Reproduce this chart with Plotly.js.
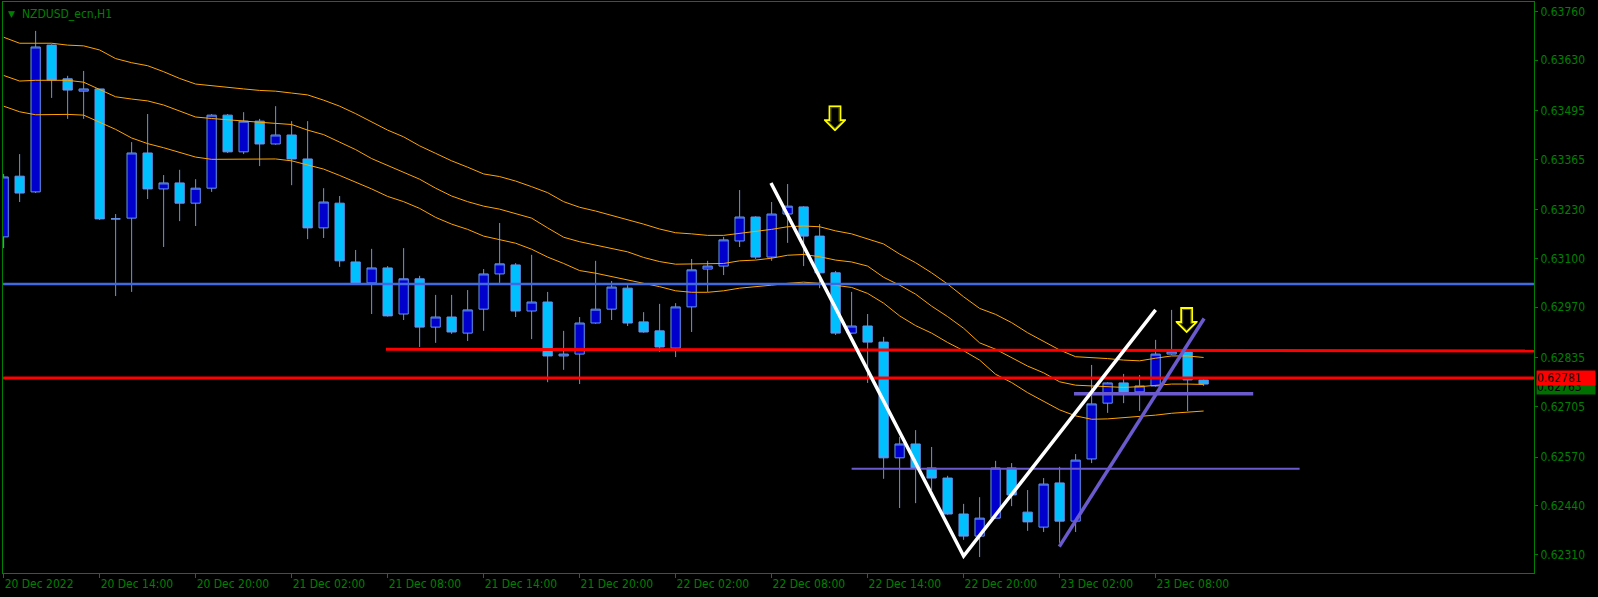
<!DOCTYPE html>
<html>
<head>
<meta charset="utf-8">
<script src="https://cdn.plot.ly/plotly-3.0.1.min.js"></script>
<style>
  html, body { margin: 0; padding: 0; background: #000; }
  #chart { width: 1598px; height: 597px; }
</style>
</head>
<body>
<div id="chart"></div>
<script>
// ---- Candles (NZDUSD_ecn, H1, 20 Dec 2022 08:00 .. 23 Dec 2022 11:00) ----
const openP = [0.63158,0.63320,0.63278,0.63670,0.63580,0.63547,0.63553,0.63206,0.63208,0.63382,
0.63286,0.63302,0.63248,0.63288,0.63483,0.63385,0.63467,0.63406,0.63430,0.63366,
0.63182,0.63248,0.63091,0.63035,0.63075,0.62952,0.63046,0.62917,0.62944,0.62901,
0.62965,0.63059,0.63083,0.62960,0.62984,0.62840,0.62845,0.62928,0.62965,0.63021,
0.62931,0.62907,0.62861,0.62971,0.63072,0.63080,0.63147,0.63211,0.63104,0.63219,
0.63238,0.63160,0.63062,0.62901,0.62920,0.62877,0.62568,0.62605,0.62541,0.62514,
0.62418,0.62359,0.62407,0.62541,0.62423,0.62383,0.62501,0.62399,0.62565,0.62714,
0.62768,0.62744,0.62760,0.62845,0.62851,0.62776];
const highP = [0.63326,0.63379,0.63708,0.63672,0.63588,0.63601,0.63553,0.63219,0.63411,0.63486,
0.63323,0.63337,0.63312,0.63486,0.63486,0.63491,0.63473,0.63507,0.63467,0.63467,
0.63288,0.63267,0.63123,0.63126,0.63080,0.63128,0.63054,0.63003,0.63003,0.63016,
0.63072,0.63195,0.63088,0.63110,0.63011,0.62907,0.62944,0.63094,0.63040,0.63029,
0.62957,0.62979,0.62981,0.63099,0.63094,0.63158,0.63283,0.63213,0.63251,0.63299,
0.63240,0.63192,0.63067,0.63011,0.62952,0.62891,0.62624,0.62642,0.62597,0.62520,
0.62445,0.62463,0.62560,0.62554,0.62482,0.62514,0.62544,0.62578,0.62816,0.62770,
0.62792,0.62789,0.62883,0.62963,0.62853,0.62778];
const lowP = [0.63128,0.63251,0.63275,0.63529,0.63473,0.63473,0.63203,0.63000,0.63011,0.63259,
0.63131,0.63200,0.63187,0.63278,0.63382,0.63379,0.63347,0.63404,0.63296,0.63152,
0.63155,0.63078,0.63033,0.62952,0.62945,0.62936,0.62864,0.62875,0.62899,0.62880,
0.62907,0.63035,0.62944,0.62885,0.62770,0.62803,0.62765,0.62926,0.62936,0.62920,
0.62902,0.62851,0.62837,0.62904,0.63011,0.63056,0.63131,0.63099,0.63094,0.63142,
0.63080,0.63021,0.62896,0.62899,0.62768,0.62512,0.62434,0.62447,0.62482,0.62416,
0.62349,0.62303,0.62405,0.62439,0.62373,0.62370,0.62341,0.62370,0.62554,0.62688,
0.62714,0.62693,0.62758,0.62843,0.62693,0.62760];
const closeP = [0.63318,0.63275,0.63665,0.63577,0.63550,0.63553,0.63206,0.63206,0.63382,0.63286,
0.63302,0.63248,0.63288,0.63483,0.63385,0.63467,0.63406,0.63430,0.63366,0.63182,
0.63251,0.63094,0.63035,0.63075,0.62947,0.63046,0.62917,0.62944,0.62904,0.62963,
0.63059,0.63086,0.62960,0.62984,0.62840,0.62845,0.62928,0.62965,0.63024,0.62928,
0.62904,0.62864,0.62971,0.63070,0.63080,0.63150,0.63211,0.63104,0.63219,0.63240,
0.63160,0.63062,0.62901,0.62920,0.62877,0.62568,0.62605,0.62541,0.62514,0.62418,
0.62359,0.62407,0.62541,0.62469,0.62397,0.62498,0.62399,0.62562,0.62712,0.62768,
0.62744,0.62760,0.62845,0.62851,0.62776,0.62765];

// ---- Orange envelope lines ----
const envUpper = [0.63691,0.63675,0.63675,0.63675,0.63670,0.63668,0.63657,0.63634,0.63623,0.63615,
0.63599,0.63581,0.63566,0.63561,0.63557,0.63553,0.63549,0.63547,0.63542,0.63537,
0.63523,0.63507,0.63487,0.63465,0.63443,0.63425,0.63401,0.63381,0.63361,0.63344,
0.63326,0.63319,0.63307,0.63292,0.63276,0.63252,0.63237,0.63227,0.63216,0.63205,
0.63192,0.63179,0.63169,0.63166,0.63162,0.63162,0.63167,0.63172,0.63178,0.63185,
0.63187,0.63185,0.63174,0.63166,0.63152,0.63139,0.63112,0.63089,0.63062,0.63032,
0.62998,0.62967,0.62951,0.62929,0.62902,0.62878,0.62856,0.62838,0.62836,0.62833,
0.62829,0.62827,0.62834,0.62840,0.62840,0.62836];
const envMiddle = [0.63589,0.63574,0.63576,0.63576,0.63576,0.63571,0.63551,0.63532,0.63526,0.63521,
0.63510,0.63494,0.63478,0.63474,0.63470,0.63468,0.63464,0.63461,0.63458,0.63443,
0.63431,0.63411,0.63391,0.63367,0.63349,0.63332,0.63312,0.63288,0.63267,0.63252,
0.63240,0.63232,0.63219,0.63208,0.63182,0.63157,0.63145,0.63136,0.63129,0.63118,
0.63103,0.63092,0.63085,0.63085,0.63085,0.63087,0.63094,0.63096,0.63101,0.63109,
0.63111,0.63105,0.63096,0.63091,0.63080,0.63050,0.63029,0.63005,0.62973,0.62945,
0.62914,0.62875,0.62858,0.62835,0.62813,0.62795,0.62771,0.62762,0.62760,0.62758,
0.62756,0.62758,0.62762,0.62765,0.62765,0.62764];
const envLower = [0.63507,0.63492,0.63484,0.63485,0.63485,0.63483,0.63463,0.63445,0.63422,0.63407,
0.63396,0.63383,0.63371,0.63365,0.63365,0.63367,0.63367,0.63366,0.63361,0.63351,
0.63339,0.63322,0.63305,0.63286,0.63266,0.63252,0.63234,0.63210,0.63192,0.63178,
0.63160,0.63150,0.63141,0.63125,0.63104,0.63087,0.63068,0.63061,0.63052,0.63045,
0.63034,0.63025,0.63014,0.63010,0.63010,0.63014,0.63021,0.63024,0.63029,0.63034,
0.63037,0.63034,0.63028,0.63023,0.63007,0.62981,0.62947,0.62921,0.62901,0.62876,
0.62854,0.62829,0.62791,0.62769,0.62742,0.62720,0.62696,0.62680,0.62671,0.62672,
0.62675,0.62678,0.62682,0.62687,0.62690,0.62693];

// ---- Axis ticks ----
const xTickBars = [0,6,12,18,24,30,36,42,48,54,60,66,72];
const xTickLabels = ["20 Dec 2022","20 Dec 14:00","20 Dec 20:00","21 Dec 02:00","21 Dec 08:00",
  "21 Dec 14:00","21 Dec 20:00","22 Dec 02:00","22 Dec 08:00","22 Dec 14:00","22 Dec 20:00",
  "23 Dec 02:00","23 Dec 08:00"];
const yTickVals = [0.63760,0.63630,0.63495,0.63365,0.63230,0.63100,0.62970,0.62835,0.62705,0.62570,0.62440,0.62310];
const yTickText = ["0.63760","0.63630","0.63495","0.63365","0.63230","0.63100","0.62970","0.62835","0.62705","0.62570","0.62440","0.62310"];

// ---- Drawn objects ----
const blueLevel = 0.63032;
const redLevel = 0.62781;
const bidPrice = 0.62763;
const redRayX = [23.9, 100];
const redRayY = [0.62858, 0.62853];
const whiteVX = [47.96, 60.0, 72.0];
const whiteVY = [0.63302, 0.62306, 0.62963];
const purpleThinX = [53.0, 81.0];
const purpleThinY = [0.62539, 0.62539];
const purpleThickX = [66.9, 78.1];
const purpleThickY = [0.62739, 0.62739];
const purpleDiagX = [65.98, 75.03];
const purpleDiagY = [0.62331, 0.62940];
const arrowBars = [51.96, 73.94];
const arrowPrices = [0.63475, 0.62936];

const xRange = [-0.04, 95.65];
const yRange = [0.622605, 0.637851];

const barIdx = openP.map((_, i) => i);
const GREEN = '#008000';
const FONT = 'DejaVu Sans Condensed, DejaVu Sans, sans-serif';

// outlined down-arrow symbol (Wingdings-like), used as an image marker
const arrowSvg = 'data:image/svg+xml;charset=utf-8,' + encodeURIComponent(
  '<svg xmlns="http://www.w3.org/2000/svg" width="22" height="26" viewBox="0 0 22 26">' +
  '<path d="M5.5,1 H16.5 V15 H21 L11,25 L1,15 H5.5 Z" fill="#000000" stroke="#FFFF00" stroke-width="1.8" stroke-linejoin="miter"/>' +
  '<path d="M7,2.5 H15 V16.5 H17.6 L11,23 L4.4,16.5 H7 Z" fill="none" stroke="#6b6b00" stroke-width="0.8"/>' +
  '</svg>');

const traces = [
  {
    type: 'candlestick', x: barIdx, open: openP, high: highP, low: lowP, close: closeP,
    increasing: { line: { color: '#6495ED', width: 1 }, fillcolor: '#0000CD' },
    decreasing: { line: { color: '#6495ED', width: 1 }, fillcolor: '#00BFFF' },
    whiskerwidth: 0, hoverinfo: 'skip', showlegend: false
  },
  { type: 'scatter', mode: 'lines', x: barIdx, y: envUpper, line: { color: '#FFA500', width: 1 }, hoverinfo: 'skip', showlegend: false },
  { type: 'scatter', mode: 'lines', x: barIdx, y: envMiddle, line: { color: '#FFA500', width: 1 }, hoverinfo: 'skip', showlegend: false },
  { type: 'scatter', mode: 'lines', x: barIdx, y: envLower, line: { color: '#FFA500', width: 1 }, hoverinfo: 'skip', showlegend: false },
  { type: 'scatter', mode: 'lines', x: [xRange[0] - 1, xRange[1] + 1], y: [blueLevel, blueLevel], line: { color: '#4169E1', width: 2.5 }, hoverinfo: 'skip', showlegend: false },
  { type: 'scatter', mode: 'lines', x: redRayX, y: redRayY, line: { color: '#FF0000', width: 3 }, hoverinfo: 'skip', showlegend: false },
  { type: 'scatter', mode: 'lines', x: [xRange[0] - 1, xRange[1] + 1], y: [redLevel, redLevel], line: { color: '#FF0000', width: 3 }, hoverinfo: 'skip', showlegend: false },
  { type: 'scatter', mode: 'lines', x: purpleThinX, y: purpleThinY, line: { color: '#6A5ACD', width: 2 }, hoverinfo: 'skip', showlegend: false },
  { type: 'scatter', mode: 'lines', x: purpleThickX, y: purpleThickY, line: { color: '#6A5ACD', width: 3.5 }, hoverinfo: 'skip', showlegend: false },
  { type: 'scatter', mode: 'lines', x: purpleDiagX, y: purpleDiagY, line: { color: '#6A5ACD', width: 3.5 }, hoverinfo: 'skip', showlegend: false },
  { type: 'scatter', mode: 'lines', x: whiteVX, y: whiteVY, line: { color: '#FFFFFF', width: 3.5 }, hoverinfo: 'skip', showlegend: false }
];

const arrowSizeX = 22 / 16;         // bars  (22 px at 16 px per bar)
const arrowSizeY = 26 / 37452;      // price (26 px at 37452 px per unit)

const layout = {
  width: 1598, height: 597,
  margin: { l: 3, r: 64, t: 2, b: 24, pad: 0 },
  paper_bgcolor: '#000000', plot_bgcolor: '#000000',
  showlegend: false,
  boxgap: 0.42, boxgroupgap: 0,
  font: { family: FONT, size: 12, color: GREEN },
  xaxis: {
    range: xRange, fixedrange: true,
    rangeslider: { visible: false },
    showgrid: false, zeroline: false,
    showline: true, mirror: true, linecolor: GREEN, linewidth: 1,
    tickmode: 'array', tickvals: xTickBars, ticktext: xTickLabels,
    ticks: 'outside', ticklen: 4, tickcolor: GREEN, tickwidth: 1,
    ticklabelposition: 'outside right',
    tickfont: { family: FONT, size: 12, color: GREEN }
  },
  yaxis: {
    range: yRange, fixedrange: true, side: 'right',
    showgrid: false, zeroline: false,
    showline: true, mirror: true, linecolor: GREEN, linewidth: 1,
    tickmode: 'array', tickvals: yTickVals, ticktext: yTickText,
    ticks: 'outside', ticklen: 3, tickcolor: GREEN, tickwidth: 1,
    tickfont: { family: FONT, size: 12, color: GREEN }
  },
  images: arrowBars.map((b, k) => ({
    source: arrowSvg, xref: 'x', yref: 'y', x: b, y: arrowPrices[k],
    sizex: arrowSizeX, sizey: arrowSizeY, sizing: 'stretch',
    xanchor: 'center', yanchor: 'middle', layer: 'above'
  })),
  annotations: [
    { xref: 'paper', yref: 'paper', x: 0, y: 1, xanchor: 'left', yanchor: 'top', xshift: 3, yshift: -5,
      text: '\u25BC', showarrow: false, font: { family: 'DejaVu Sans, sans-serif', size: 9, color: GREEN } },
    { xref: 'paper', yref: 'paper', x: 0, y: 1, xanchor: 'left', yanchor: 'top', xshift: 17, yshift: -3,
      text: 'NZDUSD_ecn,H1', showarrow: false, font: { family: FONT, size: 12, color: GREEN } },
    { xref: 'paper', yref: 'y', x: 1, y: bidPrice, xanchor: 'left', yanchor: 'middle', xshift: 2, yshift: -2,
      text: bidPrice.toFixed(5), showarrow: false, bgcolor: '#007000', borderpad: 0, width: 58, align: 'left',
      font: { family: FONT, size: 12, color: '#000000' } },
    { xref: 'paper', yref: 'y', x: 1, y: redLevel, xanchor: 'left', yanchor: 'middle', xshift: 2,
      text: redLevel.toFixed(5), showarrow: false, bgcolor: '#FF0000', borderpad: 0, width: 58, align: 'left',
      font: { family: FONT, size: 12, color: '#000000' } }
  ]
};

Plotly.newPlot('chart', traces, layout, { displayModeBar: false, staticPlot: true });
</script>
</body>
</html>
